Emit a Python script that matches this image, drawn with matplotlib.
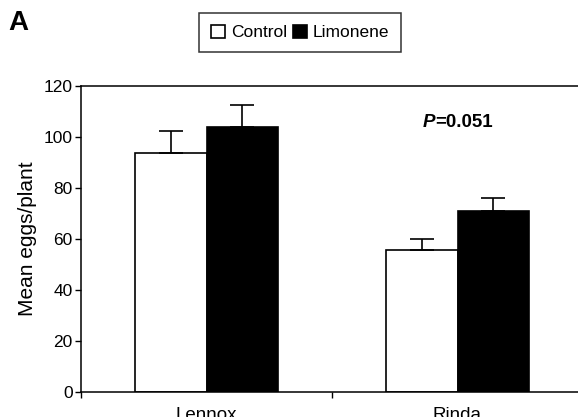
import matplotlib
matplotlib.use("Agg")
import matplotlib.pyplot as plt
import numpy as np

plt.rcParams['font.family'] = ['Liberation Sans', 'DejaVu Sans']

cultivars = ["Lennox", "Rinda"]
control_mean = [93.5, 55.4]
control_se = [8.9, 4.5]
limonene_mean = [103.8, 71.0]
limonene_se = [8.5, 5.1]
yticks = [0, 20, 40, 60, 80, 100, 120]

fig = plt.figure(figsize=(5.78, 4.17), dpi=100)
ax = fig.add_axes([81 / 578, 25.3 / 417, 502 / 578, 306 / 417])

x = np.arange(len(cultivars))
w = 0.285
err_kw = dict(lw=1.2, capthick=1.2)
b1 = ax.bar(x - w / 2, control_mean, w, color="white", edgecolor="black", lw=1.2,
            yerr=[np.zeros(len(x)), control_se], capsize=8.5, error_kw=err_kw,
            label="Control", zorder=2)
b2 = ax.bar(x + w / 2, limonene_mean, w, color="black", edgecolor="black", lw=1.2,
            yerr=[np.zeros(len(x)), limonene_se], capsize=8.5, error_kw=err_kw,
            label="Limonene", zorder=2)

ax.set_xlim(-0.5, 1.5)
ax.set_ylim(0, 120)
ax.set_yticks(yticks)
ax.tick_params(axis="y", direction="out", length=4, width=1, labelsize=12.5, pad=2)

ax.set_xticks([-0.5, 0.5, 1.5])
ax.set_xticklabels([])
ax.set_xticks(x, minor=True)
ax.set_xticklabels(cultivars, minor=True, fontsize=13.5)
ax.tick_params(axis="x", which="major", direction="out", length=4, width=1)
ax.tick_params(axis="x", which="minor", length=0, pad=11)

for s in ax.spines.values():
    s.set_linewidth(1.1)

ax.set_ylabel("Mean eggs/plant", fontsize=15, labelpad=5)

# P value annotation: bold italic "P" followed by bold "=0.051"
px = 0.91
ax.text(px, 105.4, "P", fontsize=13.5, ha="right", va="center",
        fontweight="bold", fontstyle="italic")
ax.text(px, 105.4, "=0.051", fontsize=13.5, ha="left", va="center",
        fontweight="bold")

fig.text(8 / 578, 1 - 22.5 / 417, "A", fontsize=20, fontweight="bold", va="center")

leg = fig.legend(handles=[b1, b2], labels=["Control", "Limonene"], ncol=2,
                 loc="center", bbox_to_anchor=(300 / 578, 1 - 32.5 / 417),
                 frameon=True, fancybox=False, edgecolor="black", fontsize=12.5,
                 handlelength=0.8, handleheight=0.8, handletextpad=0.35,
                 columnspacing=0.35, borderpad=0.7)
leg.get_frame().set_linewidth(1.1)

fig.savefig("out.png", dpi=100)
